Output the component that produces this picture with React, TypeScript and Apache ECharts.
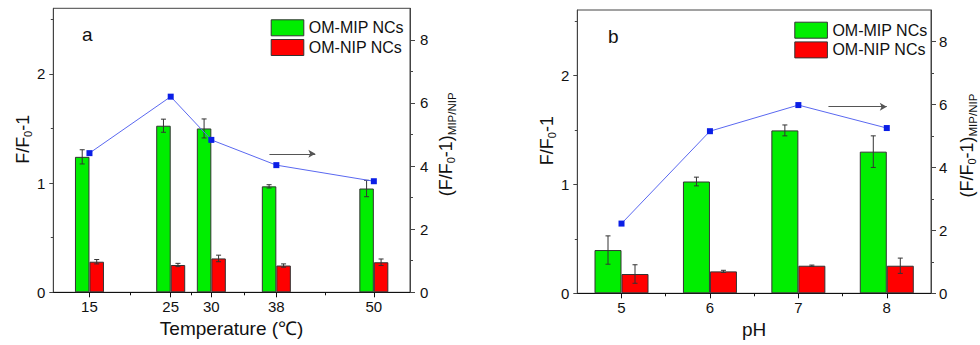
import React, { useEffect, useRef } from 'react';
import * as echarts from 'echarts';

// ---- Panel a: temperature ----
const tempValues = [15, 25, 30, 38, 50];
const tempMinorTicks = [20, 27.5, 34, 44];
const tempMip = [1.24, 1.525, 1.5, 0.97, 0.95];
const tempMipErr = [0.065, 0.06, 0.087, 0.015, 0.075];
const tempNip = [0.28, 0.25, 0.31, 0.245, 0.275];
const tempNipErr = [0.02, 0.015, 0.03, 0.015, 0.03];
const tempRatio = [4.41, 6.2, 4.83, 4.03, 3.52];
const tempArrow = [[37.15, 4.39], [42.8, 4.39]];

// ---- Panel b: pH ----
const phValues = [5, 6, 7, 8];
const phMinorTicks = [5.5, 6.5, 7.5];
const phMip = [0.397, 1.026, 1.495, 1.3];
const phMipErr = [0.13, 0.04, 0.05, 0.145];
const phNip = [0.177, 0.201, 0.253, 0.253];
const phNipErr = [0.085, 0.01, 0.006, 0.07];
const phRatio = [2.215, 5.15, 5.98, 5.25];
const phArrow = [[7.34, 5.93], [8.0, 5.93]];

// ---- Shared axis ticks ----
const leftTicks = [0, 1, 2];
const leftMinorTicks = [0.5, 1.5, 2.5];
const rightTicks = [0, 2, 4, 6, 8];
const rightMinorTicks = [1, 3, 5, 7];

const MIP = 'OM-MIP NCs';
const NIP = 'OM-NIP NCs';

const FONT = 'Arial, "Liberation Sans", sans-serif';
const GREEN = '#00ee00';
const RED = '#ff0000';
const AXIS = '#444';

function buildPanel(p: any) {
  const xi = p.idx * 2;
  const yi = p.idx * 4;
  const g = p.idx;
  const xAxes = [
    {
      type: 'value', gridIndex: g, min: p.xMin, max: p.xMax, position: 'bottom',
      name: p.xName, nameLocation: 'middle', nameGap: p.xNameGap,
      nameTextStyle: { fontSize: 19, color: '#111', fontFamily: FONT },
      axisLine: { show: true, lineStyle: { color: '#111', width: 1 } },
      axisTick: { show: true, length: 5, customValues: p.xTicks, lineStyle: { color: '#111' } },
      axisLabel: { show: true, customValues: p.xTicks, margin: 7, fontSize: 15, color: '#111', fontFamily: FONT },
      splitLine: { show: false },
    },
    {
      type: 'value', gridIndex: g, min: p.xMin, max: p.xMax, position: 'bottom',
      axisLine: { show: false },
      axisTick: { show: true, length: 3, customValues: p.xMinor, lineStyle: { color: '#111' } },
      axisLabel: { show: false },
      splitLine: { show: false },
    },
  ];
  const nameStyle = {
    fontSize: 18, color: '#111', fontFamily: FONT,
    rich: {
      s: { fontSize: 11, color: '#111', fontFamily: FONT, padding: [9, 0, 0, 0] },
      m: { fontSize: 11.5, color: '#111', fontFamily: FONT, padding: [12, 0, 0, 0] },
    },
  };
  const yAxes = [
    {
      type: 'value', gridIndex: g, min: 0, max: 2.6, position: 'left',
      name: 'F/F{s|0}-1', nameLocation: 'middle', nameRotate: 90, nameGap: p.yNameGap,
      nameTextStyle: { ...nameStyle, padding: [0, 0, 0, 22] },
      axisLine: { show: true, lineStyle: { color: AXIS } },
      axisTick: { show: true, length: 4, customValues: leftTicks, lineStyle: { color: AXIS } },
      axisLabel: { show: true, customValues: leftTicks, margin: 8, fontSize: 15, color: '#111', fontFamily: FONT },
      splitLine: { show: false },
    },
    {
      type: 'value', gridIndex: g, min: 0, max: 9, position: 'right',
      name: '(F/F{s|0}-1){m|MIP/NIP}', nameLocation: 'middle', nameRotate: 90, nameGap: p.yRNameGap,
      nameTextStyle: { ...nameStyle, padding: [0, 0, 0, 12] },
      axisLine: { show: true, lineStyle: { color: AXIS } },
      axisTick: { show: true, length: 5, customValues: rightTicks, lineStyle: { color: AXIS } },
      axisLabel: { show: true, customValues: rightTicks, margin: p.yRMargin, fontSize: 15, color: '#111', fontFamily: FONT },
      splitLine: { show: false },
    },
    {
      type: 'value', gridIndex: g, min: 0, max: 2.6, position: 'left',
      axisLine: { show: false },
      axisTick: { show: true, length: 2.5, customValues: leftMinorTicks, lineStyle: { color: AXIS } },
      axisLabel: { show: false }, splitLine: { show: false },
    },
    {
      type: 'value', gridIndex: g, min: 0, max: 9, position: 'right',
      axisLine: { show: false },
      axisTick: { show: true, length: 3, customValues: rightMinorTicks, lineStyle: { color: AXIS } },
      axisLabel: { show: false }, splitLine: { show: false },
    },
  ];

  const bw = p.barWidth;
  const errData = [
    ...p.xs.map((x: number, i: number) => [x, p.mip[i] - p.mipErr[i], p.mip[i] + p.mipErr[i], -1]),
    ...p.xs.map((x: number, i: number) => [x, p.nip[i] - p.nipErr[i], p.nip[i] + p.nipErr[i], 1]),
  ];
  const series = [
    {
      name: MIP, type: 'bar', xAxisIndex: xi, yAxisIndex: yi,
      data: p.xs.map((x: number, i: number) => [x, p.mip[i]]),
      barWidth: bw, barGap: '0%',
      itemStyle: { color: GREEN, borderColor: '#333', borderWidth: 1 },
      z: 2,
    },
    {
      name: NIP, type: 'bar', xAxisIndex: xi, yAxisIndex: yi,
      data: p.xs.map((x: number, i: number) => [x, p.nip[i]]),
      barWidth: bw, barGap: '0%',
      itemStyle: { color: RED, borderColor: '#333', borderWidth: 1 },
      z: 2,
    },
    {
      type: 'custom', xAxisIndex: xi, yAxisIndex: yi, data: errData, z: 3,
      encode: { x: 0, y: [1, 2] }, clip: false, silent: true,
      renderItem: (params: any, api: any) => {
        const x = api.value(0), lo = api.value(1), hi = api.value(2), side = api.value(3);
        const a = api.coord([x, lo]);
        const b = api.coord([x, hi]);
        const cx = a[0] + side * bw / 2;
        const half = 2.5;
        const st = { stroke: '#333', lineWidth: 1 };
        return {
          type: 'group', children: [
            { type: 'line', shape: { x1: cx, y1: a[1], x2: cx, y2: b[1] }, style: st },
            { type: 'line', shape: { x1: cx - half, y1: a[1], x2: cx + half, y2: a[1] }, style: st },
            { type: 'line', shape: { x1: cx - half, y1: b[1], x2: cx + half, y2: b[1] }, style: st },
          ],
        };
      },
    },
    {
      name: 'ratio', type: 'line', xAxisIndex: xi, yAxisIndex: yi + 1,
      data: p.xs.map((x: number, i: number) => [x, p.ratio[i]]),
      symbol: 'rect', symbolSize: 6, z: 4,
      itemStyle: { color: '#0a1ee6' },
      lineStyle: { color: '#5a68f0', width: 1 },
      markLine: {
        silent: true, symbol: ['none', 'arrow'], symbolSize: [6, 7],
        label: { show: false },
        lineStyle: { color: '#555', width: 1, type: 'solid' },
        data: [[{ coord: p.arrow[0] }, { coord: p.arrow[1] }]],
      },
    },
  ];
  return { xAxes, yAxes, series };
}

export default function App() {
  const ref = useRef<HTMLDivElement>(null);
  useEffect(() => {
    if (!ref.current) return;
    const chart = echarts.init(ref.current, undefined, { renderer: 'svg' });
    const a = buildPanel({
      idx: 0, xMin: 10.55, xMax: 54.45, xs: tempValues, xTicks: tempValues, xMinor: tempMinorTicks,
      mip: tempMip, mipErr: tempMipErr, nip: tempNip, nipErr: tempNipErr, ratio: tempRatio,
      arrow: tempArrow, barWidth: 14.5, xName: 'Temperature (℃)', xNameGap: 26,
      yNameGap: 20, yRNameGap: 24, yRMargin: 10,
    });
    const b = buildPanel({
      idx: 1, xMin: 4.5, xMax: 8.5, xs: phValues, xTicks: phValues, xMinor: phMinorTicks,
      mip: phMip, mipErr: phMipErr, nip: phNip, nipErr: phNipErr, ratio: phRatio,
      arrow: phArrow, barWidth: 27, xName: 'pH', xNameGap: 21,
      yNameGap: 19, yRNameGap: 24, yRMargin: 8,
    });
    const legendBase = {
      orient: 'vertical', padding: 0, itemWidth: 32.6, itemHeight: 16, itemGap: 2.7,
      icon: 'rect', selectedMode: false,
      itemStyle: { borderColor: '#333', borderWidth: 1 },
      textStyle: { fontSize: 16, color: '#111', fontFamily: FONT, lineHeight: 16 },
      data: [MIP, NIP],
    };
    chart.setOption({
      animation: false,
      backgroundColor: '#fff',
      grid: [
        { left: 53.3, top: 8.3, width: 356.7, height: 284, show: true, borderColor: AXIS, borderWidth: 1, backgroundColor: 'transparent' },
        { left: 577.3, top: 10, width: 355.4, height: 283.3, show: true, borderColor: AXIS, borderWidth: 1, backgroundColor: 'transparent' },
      ],
      xAxis: [...a.xAxes, ...b.xAxes],
      yAxis: [...a.yAxes, ...b.yAxes],
      legend: [
        { ...legendBase, left: 270.7, top: 19.3 },
        { ...legendBase, left: 794.3, top: 21.7 },
      ],
      graphic: [
        { type: 'text', left: 82, top: 25, style: { text: 'a', fontSize: 19, fill: '#111', fontFamily: FONT } },
        { type: 'text', left: 608, top: 27, style: { text: 'b', fontSize: 19, fill: '#111', fontFamily: FONT } },
      ],
      series: [...a.series, ...b.series],
    });
    return () => chart.dispose();
  }, []);
  return <div ref={ref} style={{ position: 'absolute', left: 0, top: 0, width: 980, height: 345 }} />;
}
